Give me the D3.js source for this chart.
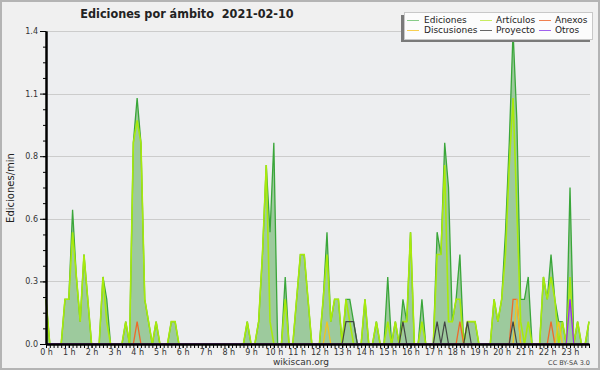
<!DOCTYPE html>
<html>
<head>
<meta charset="utf-8">
<script src="https://cdn.jsdelivr.net/npm/d3@7"></script>
<style>
  body { margin: 0; background: #f0f0f0; }
  svg { display: block; font-family: 'DejaVu Sans', sans-serif; }
</style>
</head>
<body>
<svg id="chart" width="600" height="370"></svg>
<script>
// ediciones por minuto, un valor cada 10 minutos (6 por hora)
const ediciones = [
  0.2, 0, 0, 0, 0, 0.2,   0.2, 0.6, 0.3, 0.1, 0.4, 0.2,
  0, 0, 0, 0.3, 0.2, 0,   0, 0, 0, 0.1, 0, 0.9,
  1.1, 0.9, 0.2, 0.1, 0, 0.1,   0, 0, 0, 0.1, 0.1, 0,
  0, 0, 0, 0, 0, 0,   0, 0, 0, 0, 0, 0,
  0, 0, 0, 0, 0, 0.1,   0, 0, 0.1, 0.4, 0.8, 0.5,
  0.9, 0, 0, 0.3, 0, 0,   0.2, 0.4, 0.4, 0.2, 0, 0,
  0, 0.2, 0.5, 0.1, 0.2, 0.2,   0, 0.2, 0.2, 0.1, 0, 0,
  0.2, 0, 0, 0.1, 0, 0,   0.3, 0, 0.1, 0, 0.2, 0.1,
  0.5, 0, 0, 0.2, 0, 0,   0, 0.5, 0.4, 0.9, 0.7, 0.1,
  0.2, 0.4, 0, 0.1, 0.1, 0.1,   0, 0, 0, 0, 0.2, 0.1,
  0.2, 0.5, 0.9, 1.4, 1.0, 0.2,   0.2, 0.3, 0, 0, 0, 0.3,
  0.2, 0.4, 0.2, 0.1, 0.1, 0,   0.7, 0, 0.1, 0, 0, 0.1
];
const articulos = [
  0.2, 0, 0, 0, 0, 0.2,   0.2, 0.5, 0.3, 0.1, 0.4, 0.2,
  0, 0, 0, 0.3, 0.1, 0,   0, 0, 0, 0.1, 0, 0.9,
  1.0, 0.9, 0.2, 0.1, 0, 0.1,   0, 0, 0, 0.1, 0.1, 0,
  0, 0, 0, 0, 0, 0,   0, 0, 0, 0, 0, 0,
  0, 0, 0, 0, 0, 0.1,   0, 0, 0.1, 0.4, 0.8, 0.1,
  0, 0, 0, 0.2, 0, 0,   0.2, 0.4, 0.4, 0.2, 0, 0,
  0, 0.2, 0.4, 0.1, 0.2, 0.2,   0, 0.2, 0.1, 0, 0, 0,
  0.2, 0, 0, 0.1, 0, 0,   0.1, 0, 0.1, 0, 0.1, 0.1,
  0.5, 0, 0, 0.1, 0, 0,   0, 0.4, 0.4, 0.8, 0.1, 0.1,
  0.2, 0.2, 0, 0.1, 0.1, 0.1,   0, 0, 0, 0, 0.2, 0.1,
  0.2, 0.4, 0.8, 1.1, 0.6, 0.1,   0, 0.1, 0, 0, 0, 0.3,
  0.2, 0.3, 0.2, 0, 0.1, 0,   0.3, 0, 0.1, 0, 0, 0.1
];
const anexos = [
  0, 0, 0, 0, 0, 0,   0, 0, 0, 0, 0, 0,
  0, 0, 0, 0, 0, 0,   0, 0, 0, 0, 0, 0,
  0.1, 0, 0, 0, 0, 0,   0, 0, 0, 0, 0, 0,
  0, 0, 0, 0, 0, 0,   0, 0, 0, 0, 0, 0,
  0, 0, 0, 0, 0, 0,   0, 0, 0, 0, 0, 0,
  0, 0, 0, 0, 0, 0,   0, 0, 0, 0, 0, 0,
  0, 0, 0, 0, 0, 0,   0, 0, 0, 0, 0, 0,
  0, 0, 0, 0, 0, 0,   0, 0, 0, 0, 0, 0,
  0, 0, 0, 0, 0, 0,   0, 0, 0, 0, 0, 0,
  0, 0.1, 0, 0, 0, 0,   0, 0, 0, 0, 0, 0,
  0, 0, 0, 0.2, 0.2, 0,   0, 0, 0, 0, 0, 0,
  0, 0.1, 0, 0, 0, 0,   0, 0, 0, 0, 0, 0
];
const discusiones = [
  0, 0, 0, 0, 0, 0,   0, 0, 0, 0, 0, 0,
  0, 0, 0, 0, 0, 0,   0, 0, 0, 0, 0, 0,
  0, 0, 0, 0, 0, 0,   0, 0, 0, 0, 0, 0,
  0, 0, 0, 0, 0, 0,   0, 0, 0, 0, 0, 0,
  0, 0, 0, 0, 0, 0,   0, 0, 0, 0, 0, 0,
  0, 0, 0, 0, 0, 0,   0, 0, 0, 0, 0, 0,
  0, 0, 0.1, 0, 0, 0,   0, 0, 0, 0, 0, 0,
  0, 0, 0, 0, 0, 0,   0, 0, 0, 0, 0, 0,
  0, 0, 0, 0, 0, 0,   0, 0, 0, 0, 0, 0,
  0, 0, 0, 0, 0, 0,   0, 0, 0, 0, 0, 0,
  0, 0, 0, 0, 0.2, 0,   0, 0, 0, 0, 0, 0,
  0, 0, 0, 0.1, 0, 0,   0, 0, 0, 0, 0, 0
];
const proyecto = [
  0, 0, 0, 0, 0, 0,   0, 0, 0, 0, 0, 0,
  0, 0, 0, 0, 0, 0,   0, 0, 0, 0, 0, 0,
  0, 0, 0, 0, 0, 0,   0, 0, 0, 0, 0, 0,
  0, 0, 0, 0, 0, 0,   0, 0, 0, 0, 0, 0,
  0, 0, 0, 0, 0, 0,   0, 0, 0, 0, 0, 0,
  0, 0, 0, 0, 0, 0,   0, 0, 0, 0, 0, 0,
  0, 0, 0, 0, 0, 0,   0, 0.1, 0.1, 0.1, 0, 0,
  0, 0, 0, 0, 0, 0,   0, 0, 0, 0, 0.1, 0,
  0, 0, 0, 0, 0, 0,   0, 0.1, 0, 0.1, 0, 0,
  0, 0, 0, 0.1, 0, 0,   0, 0, 0, 0, 0, 0,
  0, 0, 0, 0.1, 0, 0,   0, 0, 0, 0, 0, 0,
  0, 0, 0, 0, 0, 0,   0, 0, 0, 0, 0, 0
];
const otros = [
  0, 0, 0, 0, 0, 0,   0, 0, 0, 0, 0, 0,
  0, 0, 0, 0, 0, 0,   0, 0, 0, 0, 0, 0,
  0, 0, 0, 0, 0, 0,   0, 0, 0, 0, 0, 0,
  0, 0, 0, 0, 0, 0,   0, 0, 0, 0, 0, 0,
  0, 0, 0, 0, 0, 0,   0, 0, 0, 0, 0, 0,
  0, 0, 0, 0, 0, 0,   0, 0, 0, 0, 0, 0,
  0, 0, 0, 0, 0, 0,   0, 0, 0, 0, 0, 0,
  0, 0, 0, 0, 0, 0,   0, 0, 0, 0, 0, 0,
  0, 0, 0, 0, 0, 0,   0, 0, 0, 0, 0, 0,
  0, 0, 0, 0, 0, 0,   0, 0, 0, 0, 0, 0,
  0, 0, 0, 0, 0, 0,   0, 0, 0, 0, 0, 0,
  0, 0, 0, 0, 0, 0,   0.2, 0, 0, 0, 0, 0
];

const yTicks = [0, 0.28, 0.56, 0.84, 1.12, 1.4];
const hours = d3.range(24);
const title = 'Ediciones por ámbito  2021-02-10';

const series = [
  { name: 'Ediciones', values: ediciones, color: '#3aa63a', legend: '#88cc88', width: 1.3 },
  { name: 'Artículos', values: articulos, color: '#a8ea0c', legend: '#c8ec60', width: 1.6 },
  { name: 'Anexos', values: anexos, color: '#ee6a2a', legend: '#f08050', width: 1.3 },
  { name: 'Discusiones', values: discusiones, color: '#f2c420', legend: '#f8cf50', width: 1.3 },
  { name: 'Proyecto', values: proyecto, color: '#444444', legend: '#666666', width: 1.2 },
  { name: 'Otros', values: otros, color: '#9a2cf0', legend: '#a060ee', width: 1.3 },
];

const width = 600;
const height = 370;
const svg = d3.select('#chart');

const x = d3.scaleLinear().domain([0, ediciones.length - 1]).range([46, 589]);
const y = d3.scaleLinear().domain([0, 1.4]).range([344, 31]);

// fondo y marco
svg.append('rect')
  .attr('x', 1).attr('y', 1)
  .attr('width', width - 2).attr('height', height - 2)
  .attr('fill', '#f0f0f0')
  .attr('stroke', '#b4b4b4')
  .attr('stroke-width', 2);

svg.append('rect')
  .attr('x', x(0)).attr('y', y(1.4))
  .attr('width', 590 - x(0)).attr('height', y(0) - y(1.4))
  .attr('fill', '#edeef0');

// rejilla
svg.append('g')
  .selectAll('line')
  .data(yTicks.slice(1))
  .enter()
  .append('line')
  .attr('x1', x(0))
  .attr('x2', 590)
  .attr('y1', d => Math.round(y(d)) + 0.5)
  .attr('y2', d => Math.round(y(d)) + 0.5)
  .style('stroke', '#cccccc');

// area total
const area = d3.area()
  .x((d, i) => x(i))
  .y0(y(0))
  .y1(d => y(d));

svg.append('path')
  .datum(ediciones)
  .attr('d', area)
  .attr('fill', '#9dca9d');

const line = d3.line()
  .x((d, i) => x(i))
  .y(d => y(d));

series.forEach((s) => {
  svg.append('path')
    .datum(s.values)
    .attr('d', line)
    .attr('fill', 'none')
    .attr('stroke', s.color)
    .attr('stroke-width', s.width)
    .attr('stroke-linejoin', 'miter');
});

// ejes
svg.append('g')
  .attr('transform', `translate(${x(0)},0)`)
  .call(d3.axisLeft(y).tickValues(yTicks).tickSize(6).tickSizeOuter(0)
    .tickPadding(2).tickFormat(d3.format('.1f')));

svg.append('g')
  .attr('transform', `translate(${x(0)},0)`)
  .call(d3.axisLeft(y).tickValues(d3.range(0, 1.401, 0.07)).tickSize(3)
    .tickSizeOuter(0).tickFormat(''));

svg.append('g')
  .attr('transform', `translate(0,${y(0)})`)
  .call(d3.axisBottom(x).tickValues(d3.range(0, ediciones.length)).tickSize(4)
    .tickSizeOuter(0).tickFormat(''));

svg.append('g')
  .attr('transform', `translate(0,${y(0)})`)
  .call(d3.axisBottom(x).tickValues(hours.map(h => h * 6)).tickSize(4)
    .tickSizeOuter(0).tickPadding(1).tickFormat(d => `${d / 6} h`));

svg.selectAll('.domain')
  .attr('stroke', '#000')
  .attr('stroke-width', 2);
svg.selectAll('.tick line').attr('stroke', '#000');
svg.selectAll('.tick text')
  .attr('fill', '#333')
  .style('font-size', '8px')
  .style('font-family', "'DejaVu Sans', sans-serif");

// textos
svg.append('text')
  .attr('x', 187)
  .attr('y', 18)
  .attr('text-anchor', 'middle')
  .style('white-space', 'pre')
  .style('font-size', '12.5px')
  .style('font-weight', 'bold')
  .style('font-family', "'DejaVu Sans Condensed', 'Liberation Sans', sans-serif")
  .attr('fill', '#222')
  .text(title);

svg.append('text')
  .attr('transform', 'translate(14,188) rotate(-90)')
  .attr('text-anchor', 'middle')
  .style('font-size', '10px')
  .attr('fill', '#222')
  .text('Ediciones/min');

svg.append('text')
  .attr('x', 301)
  .attr('y', 365)
  .attr('text-anchor', 'middle')
  .style('font-size', '9px')
  .attr('fill', '#333')
  .text('wikiscan.org');

svg.append('text')
  .attr('x', 590)
  .attr('y', 365)
  .attr('text-anchor', 'end')
  .style('font-size', '6.5px')
  .attr('fill', '#444')
  .text('CC BY-SA 3.0');

// leyenda
const legend = svg.append('g');
legend.append('rect')
  .attr('x', 401).attr('y', 15)
  .attr('width', 189).attr('height', 27)
  .attr('fill', '#7a7a7a');
legend.append('rect')
  .attr('x', 404.5).attr('y', 12.5)
  .attr('width', 188).attr('height', 27)
  .attr('fill', '#fcfcfc')
  .attr('stroke', '#c8c8c8');

const colX = [407, 480, 539];
const rowY = [20, 30];
const item = legend.selectAll('g.item')
  .data(series)
  .enter()
  .append('g')
  .attr('transform', (d, i) => `translate(${colX[i % 3]},${rowY[Math.floor(i / 3)]})`);

item.append('line')
  .attr('x1', 0).attr('x2', 12)
  .attr('y1', 0.5).attr('y2', 0.5)
  .attr('stroke', d => d.legend);

item.append('text')
  .attr('x', d => (d.name === 'Ediciones' || d.name === 'Discusiones' ? 17 : 16))
  .attr('y', 3)
  .style('font-size', '9px')
  .attr('fill', '#222')
  .text(d => d.name);
</script>
</body>
</html>
